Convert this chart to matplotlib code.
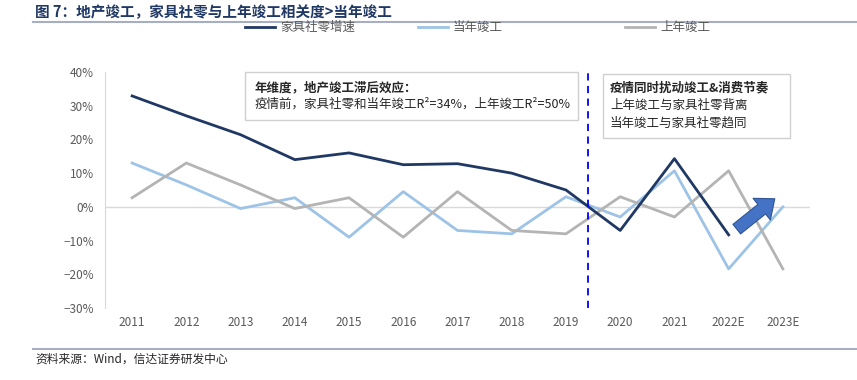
import matplotlib.pyplot as plt
from matplotlib.patches import FancyArrowPatch, Rectangle
from matplotlib.lines import Line2D

plt.rcParams['font.family'] = ['Noto Sans CJK SC', 'DejaVu Sans']
plt.rcParams['axes.unicode_minus'] = True

# data (%)
years = ["2011", "2012", "2013", "2014", "2015", "2016", "2017",
         "2018", "2019", "2020", "2021", "2022E", "2023E"]
furniture = [32.9, 27.0, 21.4, 14.0, 16.0, 12.5, 12.8, 10.0, 5.0, -7.0, 14.3, -8.3, None]
completion_cur = [13.0, 6.5, -0.5, 2.7, -9.0, 4.5, -7.0, -8.0, 3.0, -3.0, 10.7, -18.4, 0.0]
completion_prev = [2.7, 13.0, 6.5, -0.5, 2.7, -9.0, 4.5, -7.0, -8.0, 3.0, -3.0, 10.7, -18.4]

navy = "#1F3864"
light_blue = "#9DC3E6"
grey = "#B4B4B4"

fig = plt.figure(figsize=(8.57, 3.8), dpi=100)
ax = fig.add_axes([105 / 857, 1 - 308 / 380, 705 / 857, 236 / 380])

x = list(range(len(years)))
fx = [i for i, v in zip(x, furniture) if v is not None]
fy = [v for v in furniture if v is not None]
ax.plot(x, completion_cur, color=light_blue, lw=2)
ax.plot(x, completion_prev, color=grey, lw=2)
ax.plot(fx, fy, color=navy, lw=2)

ax.axhline(0, color="#D9D9D9", lw=1, zorder=0)
ax.axvline(8.4, color="#0000FF", lw=1.3, ls=(0, (4, 3)))

ax.set_xlim(-0.5, 12.5)
ax.set_ylim(-30, 40)
ax.set_xticks(x)
ax.set_xticklabels(years)
ax.set_yticks(range(-30, 41, 10))
ax.set_yticklabels([f"{v}%".replace("-", "\u2212") for v in range(-30, 41, 10)])
ax.tick_params(length=0, labelsize=8.5, colors="#595959", pad=8)
ax.tick_params(axis="x", pad=6)
for s in ["top", "right", "bottom"]:
    ax.spines[s].set_visible(False)
ax.spines["left"].set_color("#D9D9D9")

# arrow
ax.add_patch(FancyArrowPatch((11.15, -6.6), (11.85, 2.4),
                             arrowstyle="simple,head_length=0.75,head_width=1.25,tail_width=0.55",
                             mutation_scale=16, shrinkA=0, shrinkB=0,
                             fc="#4472C4", ec="#2F5597", lw=0.8, zorder=5))

# text boxes
fig.patches.append(Rectangle((245 / 857, 1 - 120 / 380), 333 / 857, 48 / 380,
                             transform=fig.transFigure, fill=False,
                             ec="#D0D0D0", lw=1))
fig.text(255 / 857, 1 - 88 / 380, "年维度，地产竣工滞后效应：", fontsize=9,
         fontweight="bold", color="#262626", va="center")
fig.text(255 / 857, 1 - 104 / 380, "疫情前，家具社零和当年竣工R²=34%，上年竣工R²=50%",
         fontsize=9, color="#262626", va="center")

fig.patches.append(Rectangle((603 / 857, 1 - 138 / 380), 187 / 857, 64 / 380,
                             transform=fig.transFigure, fill=False,
                             ec="#D0D0D0", lw=1))
fig.text(610 / 857, 1 - 88 / 380, "疫情同时扰动竣工&消费节奏", fontsize=9,
         fontweight="bold", color="#262626", va="center")
fig.text(610 / 857, 1 - 105 / 380, "上年竣工与家具社零背离", fontsize=9,
         color="#262626", va="center")
fig.text(610 / 857, 1 - 123 / 380, "当年竣工与家具社零趋同", fontsize=9,
         color="#262626", va="center")

# legend
labels = ["家具社零增速", "当年竣工", "上年竣工"]
for col, lab, x0 in zip([navy, light_blue, grey], labels, [245, 418, 625]):
    fig.add_artist(Line2D([x0 / 857, (x0 + 30) / 857], [1 - 27 / 380] * 2,
                          color=col, lw=2, transform=fig.transFigure))
    fig.text((x0 + 35) / 857, 1 - 27 / 380, lab, fontsize=9, color="#595959",
             va="center")

# title and source
fig.text(35 / 857, 1 - 12 / 380, "图 7：地产竣工，家具社零与上年竣工相关度>当年竣工",
         fontsize=10.5, fontweight="bold", color="#1F3864", va="center")
fig.add_artist(Line2D([33 / 857, 1], [1 - 22 / 380] * 2, color="#A6AFC2", lw=1.5,
                      transform=fig.transFigure))
fig.add_artist(Line2D([33 / 857, 1], [1 - 349 / 380] * 2, color="#A6AFC2", lw=1.5,
                      transform=fig.transFigure))
fig.text(35 / 857, 1 - 359 / 380, "资料来源：Wind，信达证券研发中心", fontsize=8.5,
         style="italic", color="#262626", va="center")

fig.savefig("out.png", dpi=100)
